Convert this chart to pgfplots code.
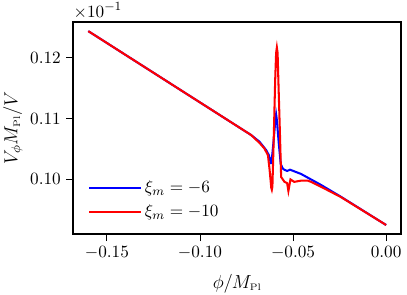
\documentclass[border=0pt]{standalone}
\usepackage{pgfplots}
\pgfplotsset{compat=1.18}
\definecolor{mplblue}{RGB}{0,0,255}
\definecolor{mplred}{RGB}{255,0,0}
\begin{document}
\begin{tikzpicture}
\useasboundingbox (-46.7pt,-38.3pt) rectangle (212.3pt,149pt);
\begin{axis}[
  scale only axis, width=208.5pt, height=135pt,
  xmin=-0.168, xmax=0.008, ymin=0.0910, ymax=0.1259,
  xtick={-0.15,-0.10,-0.05,0}, ytick={0.10,0.11,0.12},
  scaled ticks=false,
  tick label style={font=\fontsize{11}{13}\selectfont},
  xticklabel style={/pgf/number format/.cd, fixed, fixed zerofill, precision=2},
  yticklabel style={/pgf/number format/.cd, fixed, fixed zerofill, precision=2},
  tick align=outside, major tick length=4.5pt,
  tick style={line width=0.6pt, black},
  xtick pos=bottom, ytick pos=left,
  axis line style={line width=1.2pt},
  label style={font=\fontsize{11.5}{13}\selectfont},
  xlabel={$\phi/M_{\scriptscriptstyle\rm Pl}$},
  xlabel style={yshift=-2.5pt},
  ylabel={$V_\phi M_{\scriptscriptstyle\rm Pl}/V$},
  ylabel style={yshift=-2pt},
  legend style={draw=none, fill=none, at={(rel axis cs:0.03,0.04)}, anchor=south west,
    font=\fontsize{11}{13}\selectfont, row sep=2pt},
  legend cell align=left,
  legend image code/.code={\draw[#1] (0cm,0cm) -- (0.9cm,0cm); \path (0.9cm,0cm) -- (1.15cm,0cm);},
]
\addplot[mplblue, line width=1.3pt] coordinates {
(-0.160,0.1244) (-0.120,0.11658) (-0.0725,0.1073) (-0.0680,0.1062) (-0.0644,0.1048) (-0.0630,0.1040) (-0.0624,0.1033)
(-0.0620,0.1027) (-0.0616,0.1027) (-0.0604,0.1065) (-0.0595,0.1098) (-0.0591,0.1107) (-0.0587,0.1098) (-0.0577,0.1060) (-0.0566,0.1025)
(-0.0555,0.1018) (-0.0547,0.1016) (-0.0532,0.1014) (-0.0516,0.1016) (-0.0457,0.1009)
(-0.0350,0.0991) (-0.0243,0.09715) (0,0.0925)
};
\addlegendentry{$\xi_m = -6$}
\addplot[mplred, line width=1.3pt] coordinates {
(-0.160,0.1244) (-0.120,0.11658) (-0.0725,0.1073) (-0.0680,0.1060) (-0.0654,0.1051) (-0.0635,0.1040) (-0.0626,0.1016)
(-0.0617,0.0986) (-0.0614,0.0983) (-0.0611,0.0988) (-0.0604,0.1065) (-0.0596,0.1164) (-0.0591,0.1208) (-0.0587,0.1217) (-0.0583,0.1208) (-0.0579,0.1164)
(-0.0571,0.1081) (-0.0564,0.1004) (-0.0546,0.0996) (-0.0532,0.0994) (-0.0525,0.0981) (-0.0514,0.1000)
(-0.0494,0.0996) (-0.0457,0.0998) (-0.0421,0.0998) (-0.0403,0.0996) (-0.0350,0.0988)
(-0.0243,0.0971) (0,0.0925)
};
\addlegendentry{$\xi_m = -10$}
\end{axis}
\node[anchor=south west, inner sep=0pt, font=\fontsize{11}{13}\selectfont] at ([yshift=2pt]current axis.north west) {$\times10^{-1}$};
\end{tikzpicture}
\end{document}
